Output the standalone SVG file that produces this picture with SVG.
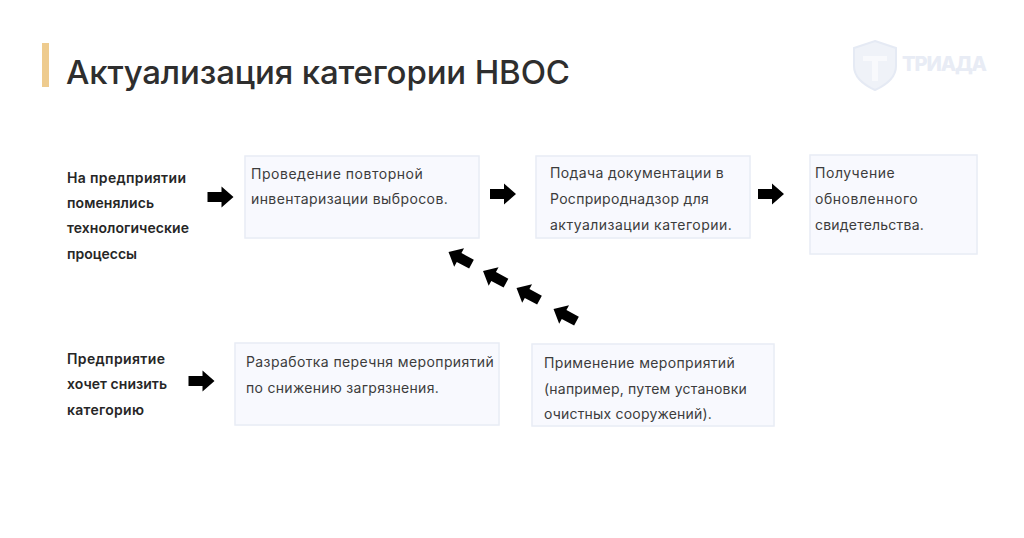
<svg xmlns="http://www.w3.org/2000/svg" width="1024" height="538" viewBox="0 0 1024 538">
<style>
.box{fill:#f8f9fe;stroke:#e8ecf5;stroke-width:1.5}
text{font-family:"Inter","Noto Sans","Liberation Sans",sans-serif}
.t{font-size:14px;fill:#3c3c3c;letter-spacing:.25px}
.b{font-size:14px;font-weight:600;fill:#262626}
.title{font-size:33px;font-weight:500;fill:#2e2e2e}
</style>
<defs>
<path id="arr" d="M-13-5H1V-10.500L13 0 1 10.500V5H-13Z" fill="#000"/>
</defs>
<rect width="1024" height="538" fill="#fff"/>
<g id="header">
<rect x="42" y="43" width="7" height="44" fill="#eecb8e"/>
<text class="title" x="66" y="84" textLength="504">Актуализация категории НВОС</text>
</g>
<g id="logo" opacity=".9">
<path d="M875 41 896 48V66C896 78 886 85 875 90 864 85 854 78 854 66V48Z" fill="#eef1f8" stroke="#e3e8f3" stroke-width="2"/>
<path d="M863 56H887V61H878V81H872V61H863Z" fill="#f8f9fc"/>
<text x="902" y="71" font-size="20" font-weight="800" fill="#e6eaf4" textLength="85">ТРИАДА</text>
</g>
<g id="label-1">
<text class="b" x="67" y="183" textLength="119">На предприятии</text>
<text class="b" x="67" y="208" textLength="87">поменялись</text>
<text class="b" x="67" y="233" textLength="122">технологические</text>
<text class="b" x="67" y="259" textLength="70">процессы</text>
</g>
<g id="label-2">
<text class="b" x="67" y="364" textLength="98">Предприятие</text>
<text class="b" x="67" y="389" textLength="100">хочет снизить</text>
<text class="b" x="67" y="415" textLength="77">категорию</text>
</g>
<g id="node-1">
<rect class="box" x="245" y="156" width="234" height="82"/>
<text class="t" x="251" y="179" textLength="172">Проведение повторной</text>
<text class="t" x="251" y="204" textLength="197">инвентаризации выбросов.</text>
</g>
<g id="node-2">
<rect class="box" x="536" y="156" width="214" height="82"/>
<text class="t" x="550" y="178" textLength="174">Подача документации в</text>
<text class="t" x="550" y="204" textLength="159">Росприроднадзор для</text>
<text class="t" x="550" y="230" textLength="182">актуализации категории.</text>
</g>
<g id="node-3">
<rect class="box" x="810" y="155" width="167" height="99"/>
<text class="t" x="815" y="178" textLength="80">Получение</text>
<text class="t" x="815" y="204" textLength="103">обновленного</text>
<text class="t" x="815" y="230" textLength="109">свидетельства.</text>
</g>
<g id="node-4">
<rect class="box" x="235" y="343" width="264" height="82"/>
<text class="t" x="246" y="367" textLength="248">Разработка перечня мероприятий</text>
<text class="t" x="246" y="393" textLength="193">по снижению загрязнения.</text>
</g>
<g id="node-5">
<rect class="box" x="532" y="344" width="242" height="82"/>
<text class="t" x="544" y="368" textLength="191">Применение мероприятий</text>
<text class="t" x="544" y="394" textLength="203">(например, путем установки</text>
<text class="t" x="544" y="419" textLength="168">очистных сооружений).</text>
</g>
<g id="connectors">
<use href="#arr" transform="translate(220.500 197)"/>
<use href="#arr" transform="translate(503 194)"/>
<use href="#arr" transform="translate(771 194)"/>
<use href="#arr" transform="translate(201.500 381)"/>
<use href="#arr" transform="translate(460 258) rotate(-152)"/>
<use href="#arr" transform="translate(494.500 277) rotate(-152)"/>
<use href="#arr" transform="translate(528 294) rotate(-152)"/>
<use href="#arr" transform="translate(565 315) rotate(-152)"/>
</g>
</svg>
